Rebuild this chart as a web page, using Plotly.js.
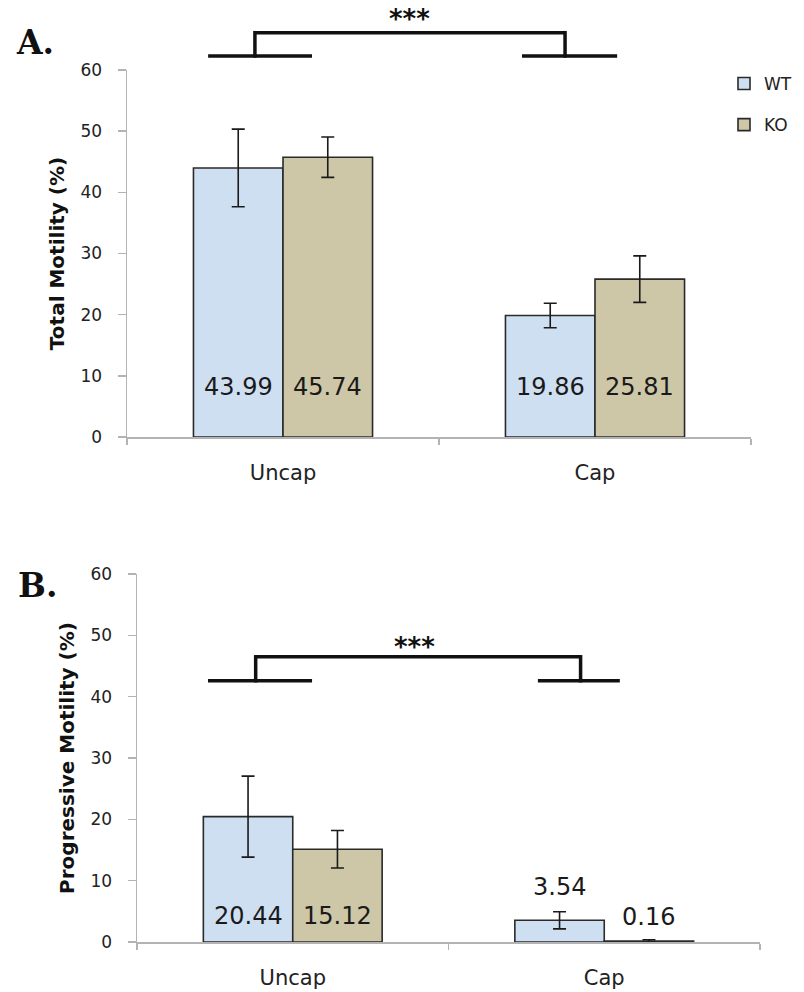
<!DOCTYPE html>
<html><head><meta charset="utf-8">
<script src="https://cdn.plot.ly/plotly-3.0.1.min.js"></script>
<style>html,body{margin:0;padding:0;background:#fff}#chart{width:804px;height:992px}</style>
</head><body><div id="chart"></div>
<script>
// ---- data ----
const categories = ['Uncap', 'Cap'];
const seriesNames = ['WT', 'KO'];
const totalWT = [43.99, 19.86];
const totalKO = [45.74, 25.81];
const totalWTErr = [6.35, 2.0];
const totalKOErr = [3.3, 3.8];
const progWT = [20.44, 3.54];
const progKO = [15.12, 0.16];
const progWTErr = [6.6, 1.4];
const progKOErr = [3.05, 0.2];
const yTicks = [0, 10, 20, 30, 40, 50, 60];
const panelLabels = ['A.', 'B.'];
const yTitles = ['Total Motility (%)', 'Progressive Motility (%)'];
const sigLabel = '***';

// ---- styles / layout constants ----
const W = 804, H = 992;
const COLORS = ['#cedff2', '#cdc7a7'];
const OUTLINE = '#2a2a2a';
const AXIS = '#b3b3b3';
const TEXT = '#222';
const BARGAP = 0.426;
const RANGE = [0, 60];
const FONT = 'DejaVu Sans, Verdana, sans-serif';

function barTrace(name, y, err, color, xa, ya, showlegend) {
  return {
    type: 'bar', name: name, x: categories, y: y, xaxis: xa, yaxis: ya,
    showlegend: showlegend, legendgroup: name,
    marker: {color: color, line: {color: OUTLINE, width: 1.6}},
    error_y: {type: 'data', array: err, visible: true, color: '#1a1a1a', thickness: 1.6, width: 6.5},
    hoverinfo: 'skip'
  };
}

const data = [
  barTrace(seriesNames[0], totalWT, totalWTErr, COLORS[0], 'x', 'y', true),
  barTrace(seriesNames[1], totalKO, totalKOErr, COLORS[1], 'x', 'y', true),
  barTrace(seriesNames[0], progWT, progWTErr, COLORS[0], 'x2', 'y2', false),
  barTrace(seriesNames[1], progKO, progKOErr, COLORS[1], 'x2', 'y2', false)
];

function xAxis(domain, anchor) {
  return {
    domain: domain, anchor: anchor, type: 'category', range: [-0.5, 1.5],
    tickson: 'boundaries', ticks: 'outside', ticklen: 6, tickwidth: 1.5, tickcolor: AXIS,
    showline: true, linecolor: AXIS, linewidth: 1.5, showgrid: false, zeroline: false,
    tickfont: {size: 21, color: TEXT, family: FONT}, ticklabelstandoff: 16, fixedrange: true
  };
}
function yAxis(domain, anchor, title) {
  return {
    domain: domain, anchor: anchor, range: RANGE, tickvals: yTicks,
    ticks: 'outside', ticklen: 8, tickwidth: 1.5, tickcolor: AXIS,
    showline: true, linecolor: AXIS, linewidth: 1.5, showgrid: false, zeroline: false,
    tickfont: {size: 17, color: TEXT, family: FONT}, ticklabelstandoff: 12,
    title: {text: title, font: {size: 20, color: '#111', family: FONT, weight: 'bold'}, standoff: 10},
    fixedrange: true
  };
}

// per-bar offset within a category (group of two bars)
const barOffset = (1 - BARGAP) / 4;
const dom = v => (v - RANGE[0]) / (RANGE[1] - RANGE[0]);

const annotations = [];
function valueLabels(series, xa, ya, labelY) {
  series.forEach((vals, s) => {
    vals.forEach((v, i) => {
      annotations.push({
        xref: xa, yref: ya, x: i + (s === 0 ? -barOffset : barOffset), y: labelY[s][i],
        text: v.toFixed(2), showarrow: false, xanchor: 'center', yanchor: 'middle',
        font: {size: 24, color: '#1a1a1a', family: FONT}
      });
    });
  });
}
valueLabels([totalWT, totalKO], 'x', 'y', [[8.2, 8.2], [8.2, 8.2]]);
valueLabels([progWT, progKO], 'x2', 'y2', [[4.25, 8.9], [4.25, 4.1]]);

// panel letters
annotations.push({xref: 'paper', yref: 'paper', x: 14 / W, y: 1 - 43 / H, xanchor: 'left', yanchor: 'middle',
  text: panelLabels[0], showarrow: false, font: {size: 33, family: 'DejaVu Serif, serif', weight: 'bold', color: '#111'}});
annotations.push({xref: 'paper', yref: 'paper', x: 16 / W, y: 1 - 585 / H, xanchor: 'left', yanchor: 'middle',
  text: panelLabels[1], showarrow: false, font: {size: 33, family: 'DejaVu Serif, serif', weight: 'bold', color: '#111'}});

// significance stars
annotations.push({xref: 'x', yref: 'y domain', x: 0.407, y: dom(68.3), text: sigLabel, showarrow: false,
  xanchor: 'center', yanchor: 'middle', font: {size: 26, family: FONT, weight: 'bold', color: '#111'}});
annotations.push({xref: 'x2', yref: 'y2 domain', x: 0.392, y: dom(48.1), text: sigLabel, showarrow: false,
  xanchor: 'center', yanchor: 'middle', font: {size: 26, family: FONT, weight: 'bold', color: '#111'}});

// brackets
const shapes = [];
function bracket(xa, ya, pxH, lx0, lx1, lv, rv, rx0, rx1, yLow, yHigh) {
  const st = {color: '#111', width: 3.5};
  const ext = 1.75 / pxH;
  const yl = dom(yLow), yh = dom(yHigh);
  const segs = [
    [lx0, yl, lx1, yl], [lv, yl - ext, lv, yh + ext], [lv, yh, rv, yh],
    [rv, yh + ext, rv, yl - ext], [rx0, yl, rx1, yl]
  ];
  segs.forEach(s => shapes.push({type: 'line', xref: xa, yref: ya + ' domain',
    x0: s[0], y0: s[1], x1: s[2], y1: s[3], line: st, layer: 'above'}));
}
bracket('x', 'y', 367, -0.240, 0.093, -0.090, 0.904, 0.766, 1.071, 62.3, 66.1);
bracket('x2', 'y2', 368, -0.272, 0.062, -0.119, 0.924, 0.787, 1.050, 42.6, 46.5);

const layout = {
  width: W, height: H, margin: {l: 0, r: 0, t: 0, b: 0},
  paper_bgcolor: '#fff', plot_bgcolor: 'rgba(0,0,0,0)',
  barmode: 'group', bargap: BARGAP, bargroupgap: 0,
  font: {family: FONT, color: TEXT},
  showlegend: true,
  legend: {x: 724 / W, xanchor: 'left', y: 1 - 66 / H, yanchor: 'top',
    font: {size: 17, color: TEXT, family: FONT}, traceorder: 'grouped', tracegroupgap: 16,
    bgcolor: 'rgba(0,0,0,0)', borderwidth: 0},
  xaxis: xAxis([127 / W, 751 / W], 'y'),
  yaxis: yAxis([1 - 437 / H, 1 - 70 / H], 'x', yTitles[0]),
  xaxis2: xAxis([137 / W, 760 / W], 'y2'),
  yaxis2: yAxis([1 - 942 / H, 1 - 574 / H], 'x2', yTitles[1]),
  annotations: annotations,
  shapes: shapes
};

Plotly.newPlot('chart', data, layout, {displayModeBar: false, staticPlot: true});
</script>
</body></html>
